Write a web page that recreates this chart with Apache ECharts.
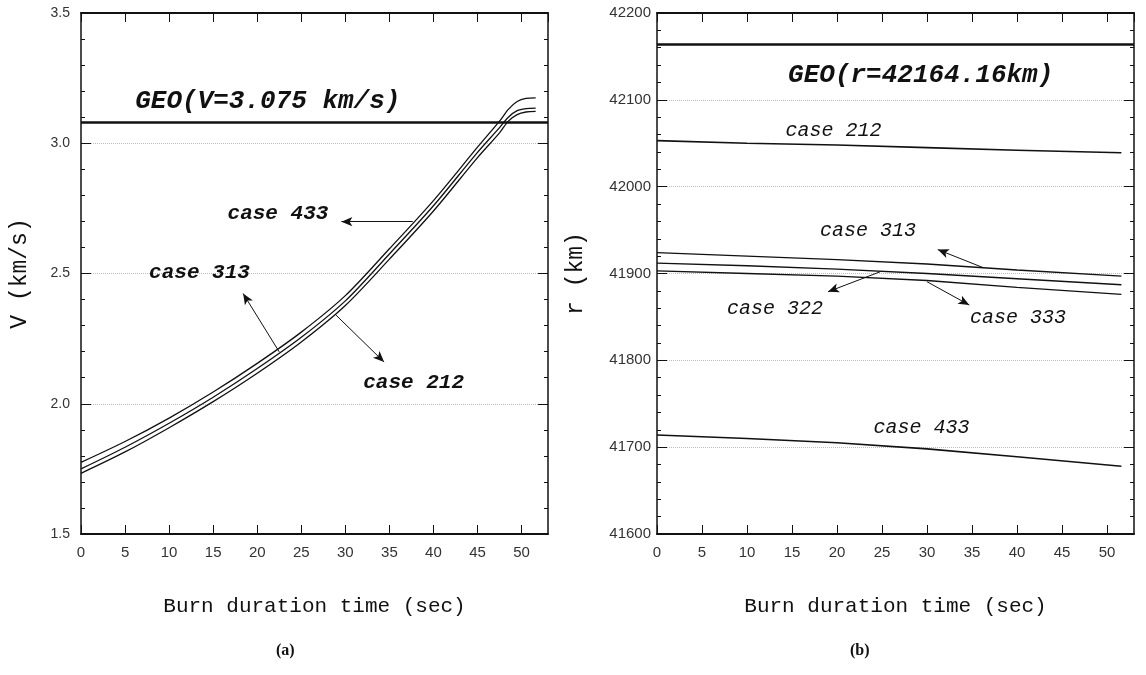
<!DOCTYPE html>
<html>
<head>
<meta charset="utf-8">
<title>Burn duration time</title>
<script src="https://cdn.jsdelivr.net/npm/echarts@6/dist/echarts.min.js"></script>
<style>
  html, body { margin: 0; padding: 0; background: #fff; }
  #chart { width: 1146px; height: 675px; }
</style>
</head>
<body>
<div id="chart"></div>
<script>
// (a) velocity against burn time, three cases
const tLeft = [0, 5, 10, 15, 20, 25, 30, 35, 40, 45, 47.5, 48.5, 49.5, 50.5, 51.6];
const v433 = [1.775, 1.855, 1.945, 2.045, 2.155, 2.275, 2.415, 2.595, 2.78, 2.985, 3.085, 3.13, 3.16, 3.172, 3.174];
const v313 = [1.750, 1.833, 1.925, 2.025, 2.135, 2.255, 2.395, 2.575, 2.76, 2.965, 3.06, 3.10, 3.125, 3.133, 3.135];
const v212 = [1.733, 1.815, 1.908, 2.008, 2.117, 2.237, 2.377, 2.555, 2.74, 2.945, 3.04, 3.085, 3.11, 3.12, 3.122];
const geoV = 3.075;

// (b) radius against burn time, five cases
const tRight = [0, 10, 20, 30, 40, 51.6];
const r212 = [42053, 42050, 42048, 42045, 42042, 42039];
const r313 = [41924, 41920, 41916, 41911, 41904, 41897];
const r322 = [41912, 41909, 41905, 41900, 41894, 41887];
const r333 = [41903, 41900, 41897, 41892, 41884, 41876];
const r433 = [41714, 41710, 41705, 41698, 41689, 41678];
const geoR = 42164.16;

const xName = 'Burn duration time (sec)';
const ink = '#111';
const labelInk = '#333';
const mono = '"Liberation Mono", monospace';
const sans = '"Liberation Sans", Arial, sans-serif';

const pairs = (xs, ys) => xs.map((x, i) => [x, ys[i]]);

function xAxisFor(grid, pos) {
  const bottom = pos === 'bottom';
  return {
    type: 'value',
    gridIndex: grid,
    position: pos,
    min: 0,
    max: 53,
    interval: 5,
    axisLine: { show: true, onZero: false, lineStyle: { color: ink, width: 2 } },
    axisTick: { show: true, inside: true, length: 9, lineStyle: { color: ink, width: 1 } },
    axisLabel: { show: bottom, showMaxLabel: false, color: labelInk, fontFamily: sans, fontSize: 15, margin: 11 },
    splitLine: { show: false },
    name: bottom ? xName : '',
    nameLocation: 'middle',
    nameGap: 62,
    nameTextStyle: { fontFamily: mono, fontSize: 21, color: ink },
  };
}

function yAxisFor(grid, pos, min, max, interval, opts) {
  const left = pos === 'left';
  return {
    type: 'value',
    gridIndex: grid,
    position: pos,
    min,
    max,
    interval,
    axisLine: { show: true, onZero: false, lineStyle: { color: ink, width: 1.5 } },
    axisTick: { show: true, inside: true, length: 10, lineStyle: { color: ink, width: 1 } },
    minorTick: { show: true, splitNumber: 5, length: 4, lineStyle: { color: ink, width: 1 } },
    axisLabel: {
      show: left,
      color: labelInk,
      fontFamily: sans,
      fontSize: opts.labelSize,
      margin: opts.labelMargin,
      formatter: opts.fmt,
    },
    splitLine: { show: left, lineStyle: { color: '#bdbdbd', type: 'dotted', width: 1 } },
    name: left ? opts.name : '',
    nameLocation: 'middle',
    nameRotate: 90,
    nameGap: opts.nameGap,
    nameTextStyle: { fontFamily: mono, fontSize: 23, color: ink },
  };
}

function note(coord, text, size, weight) {
  return {
    coord,
    name: text,
    symbol: 'rect',
    symbolSize: 1,
    itemStyle: { color: 'rgba(0,0,0,0)' },
    label: {
      show: true,
      position: 'inside',
      formatter: text,
      fontFamily: mono,
      fontStyle: 'italic',
      fontWeight: weight,
      fontSize: size,
      color: ink,
    },
  };
}

// arrow from a point on a curve towards its label
function arrow(from, to) {
  return [
    { coord: from, symbol: 'none' },
    { coord: to, symbol: 'arrow', symbolSize: [7, 11] },
  ];
}

function curve(name, grid, xs, ys, width, extra) {
  return Object.assign({
    name,
    type: 'line',
    xAxisIndex: grid * 2,
    yAxisIndex: grid * 2,
    data: pairs(xs, ys),
    showSymbol: false,
    smooth: grid === 0 ? 0.3 : false,
    lineStyle: { color: ink, width },
    itemStyle: { color: ink },
    emphasis: { disabled: true },
    silent: true,
  }, extra || {});
}

const arrowStyle = {
  silent: true,
  label: { show: false },
  itemStyle: { color: ink },
  lineStyle: { color: ink, width: 1, type: 'solid' },
  emphasis: { disabled: true },
};

const geoStyle = {
  silent: true,
  symbol: 'none',
  label: { show: false },
  lineStyle: { color: ink, width: 2.5, type: 'solid' },
  emphasis: { disabled: true },
};

const chart = echarts.init(document.getElementById('chart'), null, { renderer: 'canvas' });

chart.setOption({
  animation: false,
  backgroundColor: '#fff',
  grid: [
    { left: 81, top: 13, width: 467, height: 521 },
    { left: 657, top: 13, width: 477, height: 521 },
  ],
  xAxis: [
    xAxisFor(0, 'bottom'),
    xAxisFor(0, 'top'),
    xAxisFor(1, 'bottom'),
    xAxisFor(1, 'top'),
  ],
  yAxis: [
    yAxisFor(0, 'left', 1.5, 3.5, 0.5, { name: 'V (km/s)', nameGap: 50, labelSize: 14, labelMargin: 11, fmt: (v) => v.toFixed(1) }),
    yAxisFor(0, 'right', 1.5, 3.5, 0.5, {}),
    yAxisFor(1, 'left', 41600, 42200, 100, { name: 'r (km)', nameGap: 70, labelSize: 15, labelMargin: 6, fmt: (v) => String(v) }),
    yAxisFor(1, 'right', 41600, 42200, 100, {}),
  ],
  series: [
    curve('case 433', 0, tLeft, v433, 1.3, {
      markLine: Object.assign({ data: [{ yAxis: geoV }] }, geoStyle),
    }),
    curve('case 313', 0, tLeft, v313, 1.3, {
      markLine: Object.assign({
        data: [
          arrow([37.65, 2.699], [29.55, 2.699]),
          arrow([22.5, 2.199], [18.4, 2.423]),
          arrow([28.95, 2.34], [34.4, 2.16]),
        ],
      }, arrowStyle),
    }),
    curve('case 212', 0, tLeft, v212, 1.3, {
      markPoint: {
        silent: true,
        data: [
          note([21.2, 3.159], 'GEO(V=3.075 km/s)', 26, 'bold'),
          note([22.35, 2.73], 'case 433', 21, 'bold'),
          note([13.45, 2.504], 'case 313', 21, 'bold'),
          note([37.75, 2.08], 'case 212', 21, 'bold'),
        ],
      },
    }),
    curve('case 212', 1, tRight, r212, 1.6, {
      markLine: Object.assign({ data: [{ yAxis: geoR }] }, geoStyle),
    }),
    curve('case 313', 1, tRight, r313, 1.4, {
      markLine: Object.assign({
        data: [
          arrow([36.2, 41906.9], [31.2, 41927.5]),
          arrow([24.8, 41902], [19.0, 41879]),
          arrow([30.0, 41890.5], [34.7, 41863.7]),
        ],
      }, arrowStyle),
    }),
    curve('case 322', 1, tRight, r322, 1.4, {
      markPoint: {
        silent: true,
        data: [
          note([29.3, 42128], 'GEO(r=42164.16km)', 26, 'bold'),
          note([19.6, 42065], 'case 212', 20, 'normal'),
          note([23.45, 41949.6], 'case 313', 20, 'normal'),
          note([13.1, 41860], 'case 322', 20, 'normal'),
          note([40.1, 41849.6], 'case 333', 20, 'normal'),
          note([29.4, 41721.9], 'case 433', 20, 'normal'),
        ],
      },
    }),
    curve('case 333', 1, tRight, r333, 1.4),
    curve('case 433', 1, tRight, r433, 1.6),
  ],
  graphic: [
    { type: 'text', left: 276, top: 643, style: { text: '(a)', font: 'bold 16px "Liberation Serif"', fill: ink } },
    { type: 'text', left: 850, top: 643, style: { text: '(b)', font: 'bold 16px "Liberation Serif"', fill: ink } },
  ],
});

window.addEventListener('resize', () => chart.resize());
</script>
</body>
</html>
